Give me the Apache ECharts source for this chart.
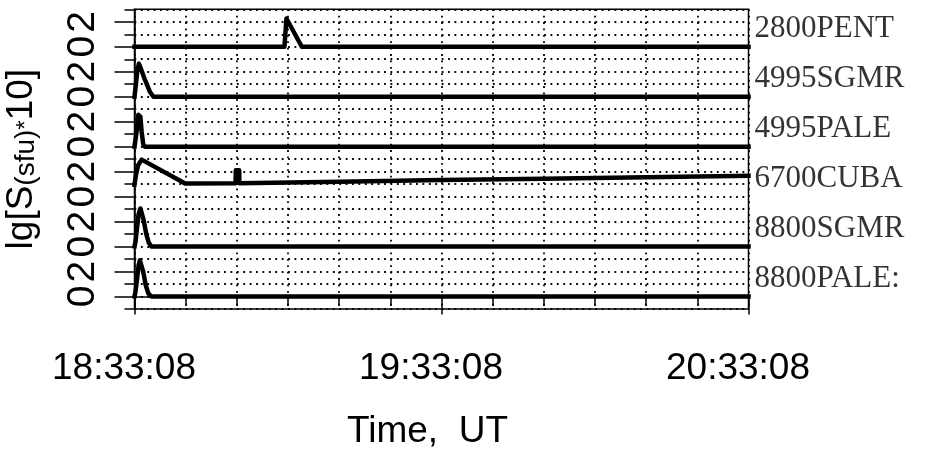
<!DOCTYPE html>
<html>
<head>
<meta charset="utf-8">
<script src="https://cdn.jsdelivr.net/npm/echarts@6/dist/echarts.min.js"></script>
<style>
html,body{margin:0;padding:0;background:#fff;}
#chart{width:925px;height:453px;}
</style>
</head>
<body>
<div id="chart"></div>
<script>
// Time in minutes after 18:33:08
const timeTickLabels = ['18:33:08', '19:33:08', '20:33:08'];
const stationNames = ['2800PENT', '4995SGMR', '4995PALE', '6700CUBA', '8800SGMR', '8800PALE:'];
const panelOffsets = [20, 16, 12, 8, 4, 0];

const pent2800Time = [0, 29.3, 29.7, 32.7, 120];
const pent2800Val  = [0, 0, 2.26, 0, 0];

const sgmr4995Time = [0, 0.25, 0.5, 0.85, 1.2, 2.0, 3.0, 3.7, 120];
const sgmr4995Val  = [0, 0.9, 1.9, 2.65, 2.3, 1.4, 0.4, 0, 0];

const pale4995Time = [0, 0.35, 0.55, 0.75, 0.95, 1.15, 1.4, 1.7, 2.0, 120];
const pale4995Val  = [0, 0, 1.6, 2.55, 2.7, 2.4, 1.2, 0.2, 0, 0];

const cuba6700Time = [0, 0.3, 0.7, 1.4, 9.9, 19.75, 19.8, 20.45, 20.5, 40, 60, 80, 100, 120];
const cuba6700Val  = [0.95, 1.8, 2.5, 2.96, 1.05, 1.07, 2.12, 2.12, 1.08, 1.2, 1.33, 1.44, 1.55, 1.66];

const sgmr8800Time = [0, 0.2, 0.5, 0.8, 1.15, 1.45, 1.8, 2.3, 2.8, 3.3, 120];
const sgmr8800Val  = [0, 0.4, 1.5, 2.6, 3.05, 2.9, 2.1, 1.0, 0.3, 0, 0];

const pale8800Time = [0, 0.2, 0.5, 0.8, 1.05, 1.35, 1.7, 2.2, 2.7, 3.3, 120];
const pale8800Val  = [0, 0.4, 1.4, 2.5, 2.9, 2.75, 2.0, 0.9, 0.25, 0, 0];

const yLabelValues = [0, 2, 4, 6, 8, 10, 12, 14, 16, 18, 20, 22];
const stationLabelLevel = 1.42;

const seriesTimes = [pent2800Time, sgmr4995Time, pale4995Time, cuba6700Time, sgmr8800Time, pale8800Time];
const seriesVals  = [pent2800Val, sgmr4995Val, pale4995Val, cuba6700Val, sgmr8800Val, pale8800Val];

const sans = 'Liberation Sans, Arial, sans-serif';
const serif = 'Liberation Serif, Times New Roman, serif';
const dotStyle = { color: '#000', width: 1.8, type: [1.8, 4.6] };

const series = seriesTimes.map((t, i) => ({
  type: 'line',
  name: stationNames[i],
  xAxisIndex: 0,
  yAxisIndex: 0,
  data: t.map((x, j) => [x, panelOffsets[i] + seriesVals[i][j]]),
  symbol: 'none',
  lineStyle: { color: '#000', width: 4.5, cap: 'square', join: 'round' },
  z: 5,
  animation: false
}));

series.push({
  type: 'scatter',
  xAxisIndex: 0,
  yAxisIndex: 0,
  symbolSize: 0,
  data: stationNames.map((n, i) => [120, panelOffsets[i] + stationLabelLevel]),
  label: {
    show: true,
    position: 'right',
    distance: 6,
    formatter: p => stationNames[p.dataIndex],
    fontFamily: serif,
    fontSize: 31,
    color: '#000'
  },
  silent: true,
  animation: false
});

const chart = echarts.init(document.getElementById('chart'), null, { renderer: 'canvas' });
chart.setOption({
  animation: false,
  backgroundColor: '#fff',
  grid: {
    left: 134.5, right: 176.5, top: 9.3, bottom: 144,
    containLabel: false,
    outerBoundsMode: 'none',
    show: true, borderColor: '#000', borderWidth: 1.5, backgroundColor: 'transparent'
  },
  xAxis: [{
    type: 'value',
    min: 0, max: 120, interval: 60,
    axisLine: { show: true, lineStyle: { color: '#000', width: 1.5 } },
    axisTick: { show: true, length: 18, lineStyle: { color: '#000', width: 1.5 } },
    minorTick: { show: true, splitNumber: 6, length: 9.5, lineStyle: { color: '#000', width: 1.5 } },
    splitLine: { show: true, lineStyle: dotStyle },
    minorSplitLine: { show: true, lineStyle: dotStyle },
    axisLabel: {
      formatter: v => timeTickLabels[Math.round(v / 60)],
      fontFamily: sans, fontSize: 37, color: '#000', margin: 41,
      padding: [0, 21, 0, 0]
    },
    name: 'Time,  UT',
    nameLocation: 'middle',
    nameGap: 104,
    nameTextStyle: { fontFamily: sans, fontSize: 37, color: '#000', padding: [0, 28, 0, 0] }
  }],
  yAxis: [{
    type: 'value',
    min: -1, max: 23,
    position: 'left',
    axisLine: { show: true, lineStyle: { color: '#000', width: 1.5 } },
    axisTick: { show: true, length: 20, customValues: yLabelValues, lineStyle: { color: '#000', width: 1.5 } },
    axisLabel: {
      customValues: yLabelValues,
      formatter: v => String(((v % 4) + 4) % 4),
      rotate: 90,
      fontFamily: sans, fontSize: 39, color: '#000', margin: 32
    },
    splitLine: { show: false },
    name: 'lg[S{s|(sfu)}{a|*}10]',
    nameLocation: 'middle',
    nameGap: 94,
    nameRotate: 90,
    nameTextStyle: {
      fontFamily: sans, fontSize: 37, color: '#000',
      rich: {
        s: { fontFamily: sans, fontSize: 28, color: '#000', padding: [10, 0, 0, 0] },
        a: { fontFamily: sans, fontSize: 24, color: '#000', padding: [10, 0, 0, 0] }
      }
    }
  }, {
    type: 'value',
    min: -1, max: 23, interval: 1,
    position: 'left',
    axisLine: { show: false },
    axisTick: { show: true, length: 10, lineStyle: { color: '#000', width: 1.5 } },
    axisLabel: { show: false },
    splitLine: { show: true, lineStyle: dotStyle }
  }],
  series: series
});
</script>
</body>
</html>
